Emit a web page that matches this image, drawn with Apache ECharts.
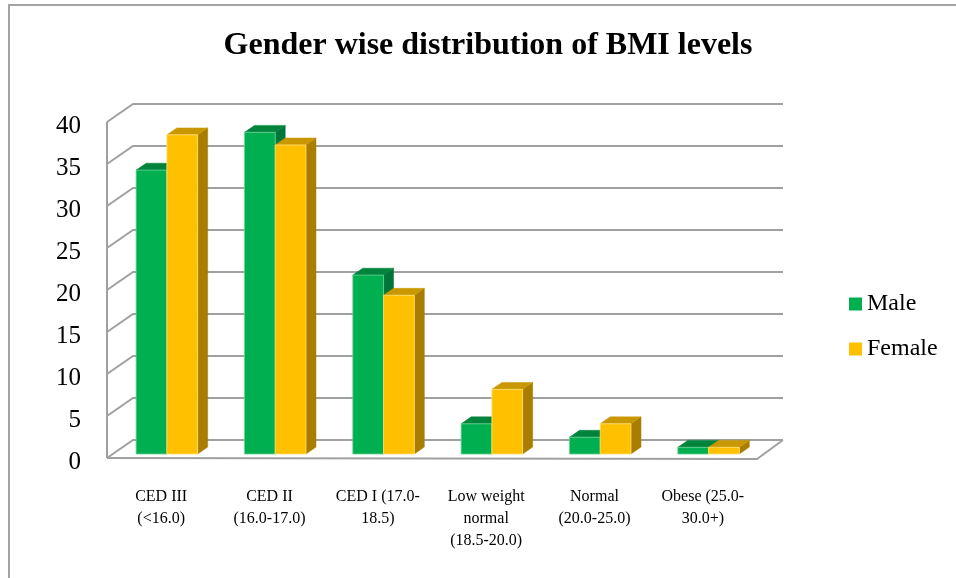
<!DOCTYPE html>
<html>
<head>
<meta charset="utf-8">
<script src="https://cdn.jsdelivr.net/npm/echarts@6/dist/echarts.min.js"></script>
<style>
  html, body { margin: 0; padding: 0; background: #fff; }
  #chart { width: 956px; height: 578px; }
</style>
</head>
<body>
<div id="chart"></div>
<script>
// BMI category labels (x axis)
const categories = [
  'CED III\n(<16.0)',
  'CED II\n(16.0-17.0)',
  'CED I (17.0-\n18.5)',
  'Low weight\nnormal\n(18.5-20.0)',
  'Normal\n(20.0-25.0)',
  'Obese (25.0-\n30.0+)'
];
// Percentage of respondents per BMI category
const maleValues = [33.8, 38.3, 21.3, 3.6, 2.0, 0.8];
const femaleValues = [38.0, 36.8, 18.9, 7.7, 3.6, 0.8];
// Value axis ticks
const yTicks = [0, 5, 10, 15, 20, 25, 30, 35, 40];

const SERIF = "'Liberation Serif', 'Times New Roman', serif";

// Pseudo-3D depth of the plot box (back wall offset from the front plane)
const DEPTH_X = 26, DEPTH_Y = -18;
// Bars sit a little behind the front plane and are a fraction of the box deep
const BAR_FRONT = 0.22, BAR_DEPTH = 0.385, BAR_WIDTH = 0.284;

const COLORS = {
  male:   { front: '#00b050', top: '#00843c', side: '#00763a', edge: '#6fd39a' },
  female: { front: '#ffc000', top: '#c99800', side: '#a87d00', edge: '#ffe27a' }
};

function wallRender(params, api) {
  const cs = params.coordSys;
  const v = api.value(0);
  const y = api.coord([0, v])[1];
  const x0 = cs.x, x1 = cs.x + cs.width;
  const children = [];
  const stroke = { stroke: '#a0a0a0', lineWidth: 2, fill: null };
  children.push({
    type: 'polyline',
    shape: { points: [[x0, y], [x0 + DEPTH_X, y + DEPTH_Y], [x1 + DEPTH_X, y + DEPTH_Y]] },
    style: stroke
  });
  if (v === 0) {
    // floor front edge and right side edge
    children.push({
      type: 'polyline',
      shape: { points: [[x0, y], [x1, y + 1], [x1 + DEPTH_X, y + DEPTH_Y]] },
      style: stroke
    });
    // left wall front edge
    const yTop = api.coord([0, yTicks[yTicks.length - 1]])[1];
    children.push({
      type: 'line',
      shape: { x1: x0, y1: y, x2: x0, y2: yTop },
      style: stroke
    });
  }
  return { type: 'group', children };
}

function barRender(key, side) {
  return function (params, api) {
    const c = api.coord([api.value(0), api.value(1)]);
    const base = api.coord([api.value(0), 0]);
    const band = api.size([1, 0])[0];
    const w = band * BAR_WIDTH;
    const col = COLORS[key];
    const shiftX = DEPTH_X * BAR_FRONT, shiftY = DEPTH_Y * BAR_FRONT;
    const x = c[0] + shiftX + (side < 0 ? -w : 0);
    const top = c[1] + shiftY;
    const bot = base[1] + shiftY;
    const dx = DEPTH_X * BAR_DEPTH, dy = DEPTH_Y * BAR_DEPTH;
    return {
      type: 'group',
      children: [
        {
          type: 'polygon',
          shape: { points: [[x + w, top], [x + w + dx, top + dy], [x + w + dx, bot + dy], [x + w, bot]] },
          style: { fill: col.side, stroke: col.side, lineWidth: 0.5 }
        },
        {
          type: 'polygon',
          shape: { points: [[x, top], [x + w, top], [x + w + dx, top + dy], [x + dx, top + dy]] },
          style: { fill: col.top, stroke: col.top, lineWidth: 0.5 }
        },
        {
          type: 'rect',
          shape: { x: x, y: top, width: w, height: bot - top },
          style: { fill: col.front, stroke: col.edge, lineWidth: 0.8 }
        }
      ]
    };
  };
}

const chart = echarts.init(document.getElementById('chart'), null, { renderer: 'canvas' });

chart.setOption({
  backgroundColor: '#ffffff',
  animation: false,
  graphic: [
    {
      type: 'polyline',
      shape: { points: [[9, 578], [9, 5], [956, 5]] },
      style: { stroke: '#a3a3a3', lineWidth: 2, fill: null },
      z: 0
    },
    {
      type: 'text',
      style: {
        text: 'Gender wise distribution of BMI levels',
        x: 488, y: 46,
        align: 'center', verticalAlign: 'middle',
        font: 'bold 32px ' + SERIF,
        fill: '#000'
      }
    }
  ],
  legend: {
    data: ['Male', 'Female'],
    orient: 'vertical',
    left: 844,
    top: 287,
    itemWidth: 13,
    itemHeight: 13,
    itemGap: 21,
    icon: 'rect',
    textStyle: { fontFamily: SERIF, fontSize: 24, color: '#000' }
  },
  grid: { left: 107, top: 122, width: 650, height: 336 },
  xAxis: {
    type: 'category',
    data: categories,
    axisLine: { show: false },
    axisTick: { show: false },
    splitLine: { show: false },
    axisLabel: {
      interval: 0,
      margin: 28,
      fontFamily: SERIF,
      fontSize: 16,
      lineHeight: 22,
      color: '#000',
      align: 'center'
    }
  },
  yAxis: {
    type: 'value',
    min: 0,
    max: 40,
    interval: 5,
    axisLine: { show: false },
    axisTick: { show: false },
    splitLine: { show: false },
    axisLabel: {
      margin: 26,
      fontFamily: SERIF,
      fontSize: 25,
      color: '#000',
      verticalAlign: 'top',
      lineHeight: 9
    }
  },
  series: [
    {
      type: 'custom',
      name: 'walls',
      silent: true,
      z: 1,
      renderItem: wallRender,
      data: yTicks.map(v => [v]),
      encode: { y: 0 }
    },
    {
      type: 'custom',
      name: 'Male',
      z: 2,
      itemStyle: { color: COLORS.male.front },
      renderItem: barRender('male', -1),
      data: maleValues.map((v, i) => [i, v]),
      encode: { x: 0, y: 1 }
    },
    {
      type: 'custom',
      name: 'Female',
      z: 3,
      itemStyle: { color: COLORS.female.front },
      renderItem: barRender('female', 1),
      data: femaleValues.map((v, i) => [i, v]),
      encode: { x: 0, y: 1 }
    }
  ]
});
</script>
</body>
</html>
